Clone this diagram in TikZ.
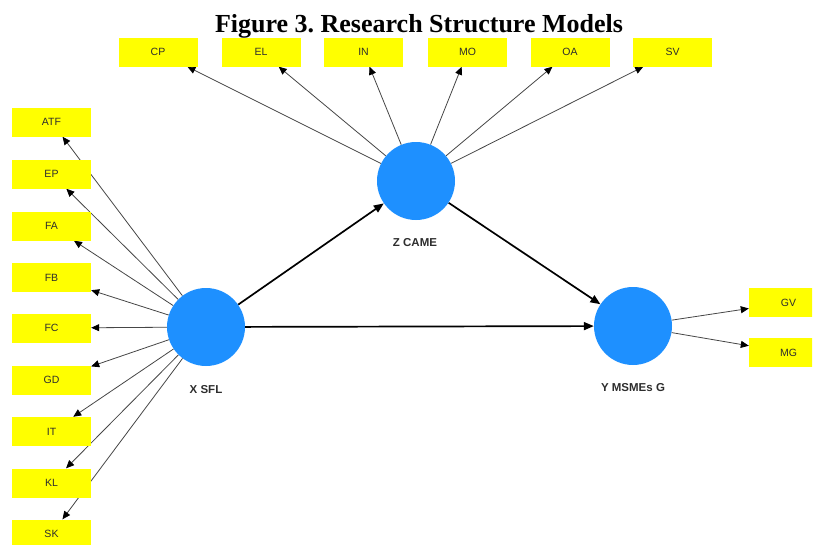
\documentclass[tikz,border=0pt]{standalone}
\usepackage{fontspec}
\setmainfont{Liberation Serif}
\setsansfont{Liberation Sans}
\usetikzlibrary{arrows.meta,backgrounds}
\definecolor{boxyellow}{RGB}{255,255,0}
\definecolor{lvblue}{RGB}{30,144,255}
\definecolor{lbl}{RGB}{45,45,45}
\definecolor{loadgray}{RGB}{70,70,70}
\frenchspacing
\begin{document}
\begin{tikzpicture}[x=1pt,y=-1pt,
  ind/.style={fill=boxyellow, minimum width=79pt, minimum height=29pt, inner sep=0pt,
    font=\sffamily\fontsize{10.5}{12}\selectfont, text=lbl},
  lv/.style={circle, fill=lvblue, minimum size=78pt, inner sep=0pt},
  lvlabel/.style={font=\sffamily\bfseries\fontsize{11.5}{13}\selectfont, text=lbl},
  load/.style={draw=loadgray, line width=0.8pt, -{Triangle[length=8pt,width=7pt,color=black]}},
  struct/.style={draw=black, line width=1.7pt, -{Triangle[length=10pt,width=8pt]}}]
\useasboundingbox (0,0) rectangle (817,544);
\clip (0,0) rectangle (812,544);

\node[font=\bfseries\fontsize{26}{30}\selectfont, anchor=base] (title) at (419,32) {Figure 3. Research Structure Models};

% latent variables
\node[lv] (X) at (206,327) {};
\node[lv] (Z) at (416,181) {};
\node[lv] (Y) at (633,326) {};
\node[lvlabel] (Xl) at (206,390) {X SFL};
\node[lvlabel] (Zl) at (415,243) {Z CAME};
\node[lvlabel] (Yl) at (633,388) {Y MSMEs G};

% top indicators
\node[ind] (CP) at (158,52) {CP};
\node[ind] (EL) at (261,52) {EL};
\node[ind] (IN) at (363.5,52) {IN};
\node[ind] (MO) at (467.5,52) {MO};
\node[ind] (OA) at (570,52) {OA};
\node[ind] (SV) at (672.5,52) {SV};

% left indicators
\node[ind] (ATF) at (51.5,122) {ATF};
\node[ind] (EP) at (51.5,174) {EP};
\node[ind] (FA) at (51.5,226) {FA};
\node[ind] (FB) at (51.5,277.5) {FB};
\node[ind] (FC) at (51.5,328) {FC};
\node[ind] (GD) at (51.5,380) {GD};
\node[ind] (IT) at (51.5,431.5) {IT};
\node[ind] (KL) at (51.5,483) {KL};
\node[ind] (SK) at (51.5,534) {SK};

% right indicators
\node[ind] (GV) at (788.5,302.5) {GV};
\node[ind] (MG) at (788.5,352.5) {MG};

\begin{scope}[on background layer]
  \foreach \t in {CP,EL,IN,MO,OA,SV} \draw[load] (Z) -- (\t);
  \foreach \t in {ATF,EP,FA,FB,FC,GD,IT,KL,SK} \draw[load] (X) -- (\t);
  \foreach \t in {GV,MG} \draw[load] (Y) -- (\t);
  \draw[struct] (X) -- (Z);
  \draw[struct] (Z) -- (Y);
  \draw[struct] (X) -- (Y);
\end{scope}
\end{tikzpicture}
\end{document}
